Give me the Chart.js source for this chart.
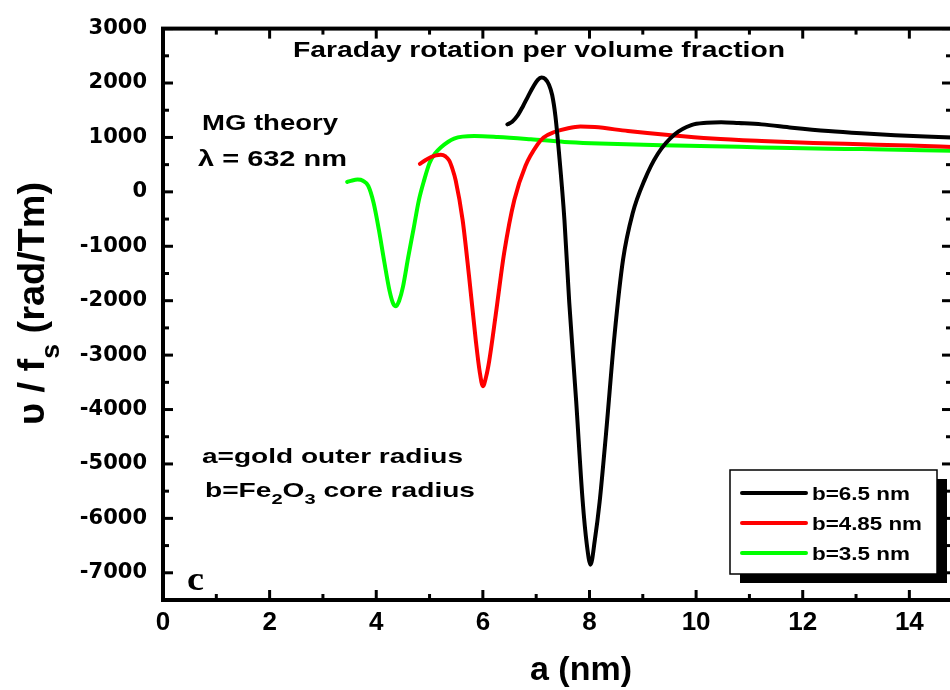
<!DOCTYPE html>
<html>
<head>
<meta charset="utf-8">
<script src="https://cdn.jsdelivr.net/npm/chart.js@4.4.1/dist/chart.umd.min.js"></script>
<style>
  html, body { margin: 0; padding: 0; background: #fff; overflow: hidden; }
  canvas { display: block; }
</style>
</head>
<body>
<canvas id="chart" width="955" height="690"></canvas>
<script>
// series: a (nm) and v/fs (rad/Tm)
const seriesLabels = ['b=6.5 nm', 'b=4.85 nm', 'b=3.5 nm'];
const seriesColors = ['#000000', '#ff0000', '#00ff00'];

const aBlack = [6.46, 6.55, 6.65, 6.75, 6.85, 6.95, 7.03, 7.1, 7.17, 7.24, 7.3, 7.36, 7.43, 7.53, 7.62, 7.75, 7.87, 7.95, 8.02, 8.1, 8.19, 8.31, 8.47, 8.63, 8.81, 9.03, 9.28, 9.6, 9.91, 10.2, 10.47, 10.8, 11.23, 11.8, 12.48, 13.1, 13.73, 14.3, 14.85];
const vBlack = [1240, 1290, 1400, 1570, 1760, 1940, 2060, 2100, 2075, 1970, 1780, 1400, 695, -515, -2027, -3842, -5657, -6480, -6850, -6400, -5700, -4446, -2632, -1241, -394, 211, 695, 1058, 1227, 1270, 1281, 1265, 1240, 1180, 1118, 1075, 1040, 1015, 995];

const aRed = [4.82, 4.92, 5.02, 5.12, 5.21, 5.30, 5.37, 5.43, 5.49, 5.62, 5.74, 5.87, 5.94, 6.0, 6.06, 6.12, 6.24, 6.40, 6.59, 6.8, 7.03, 7.14, 7.34, 7.6, 7.83, 8.1, 8.72, 9.53, 10.3, 11.23, 12.2, 13.1, 14.0, 14.85];
const vRed = [514, 580, 635, 670, 682, 650, 574, 420, 211, -515, -1543, -2753, -3300, -3570, -3400, -3100, -2269, -1120, -150, 480, 877, 1000, 1100, 1170, 1200, 1190, 1118, 1040, 980, 935, 900, 875, 850, 825];

const aGreen = [3.455, 3.55, 3.65, 3.75, 3.85, 3.95, 4.05, 4.15, 4.25, 4.32, 4.37, 4.43, 4.5, 4.6, 4.7, 4.8, 4.9, 5.0, 5.1, 5.21, 5.46, 5.84, 6.28, 6.9, 7.53, 8.03, 9.35, 10.3, 11.23, 12.48, 13.1, 14.85];
const vGreen = [181, 210, 225, 205, 110, -200, -700, -1280, -1820, -2060, -2100, -2000, -1750, -1200, -680, -152, 220, 530, 700, 817, 980, 1027, 1009, 967, 918, 895, 858, 840, 817, 790, 786, 755];

const xTicks = [0, 2, 4, 6, 8, 10, 12, 14];
const yTicks = [-7000, -6000, -5000, -4000, -3000, -2000, -1000, 0, 1000, 2000, 3000];

function toPoints(xs, ys) {
    return xs.map((x, i) => ({ x: x, y: ys[i] }));
}

// bold text squeezed/stretched to a given width; parts = [text, size, dy]
function drawFitted(ctx, parts, x, y, width, family) {
    let total = 0;
    parts.forEach(p => {
        ctx.font = 'bold ' + p[1] + 'px ' + family;
        total += ctx.measureText(p[0]).width;
    });
    ctx.save();
    ctx.translate(x, y);
    ctx.scale(width / total, 1);
    let cx = 0;
    parts.forEach(p => {
        ctx.font = 'bold ' + p[1] + 'px ' + family;
        ctx.fillText(p[0], cx, p[2]);
        cx += ctx.measureText(p[0]).width;
    });
    ctx.restore();
}

const SANS = '"Liberation Sans", Arial, sans-serif';

const framePlugin = {
    id: 'frame',
    afterDatasetsDraw(chart) {
        const { ctx, chartArea, scales } = chart;
        const { left, right, top, bottom } = chartArea;
        ctx.save();
        ctx.strokeStyle = '#000';
        ctx.lineCap = 'butt';
        ctx.lineWidth = 3;
        const seg = (x1, y1, x2, y2) => {
            ctx.beginPath(); ctx.moveTo(x1, y1); ctx.lineTo(x2, y2); ctx.stroke();
        };
        // major ticks on the labels, minor half way, all pointing inward
        const xStep = xTicks[1] - xTicks[0];
        for (let v = xTicks[0]; v <= scales.x.max; v += xStep / 2) {
            const px = scales.x.getPixelForValue(v);
            const len = xTicks.includes(v) ? 10 : 6;
            seg(px, bottom, px, bottom - len);
            seg(px, top, px, top + len);
        }
        const yStep = yTicks[1] - yTicks[0];
        for (let v = scales.y.min; v <= scales.y.max; v += yStep / 2) {
            const py = scales.y.getPixelForValue(v);
            const len = yTicks.includes(v) ? 10 : 6;
            seg(left, py, left + len, py);
            seg(right, py, right - len, py);
        }
        ctx.lineWidth = 4;
        ctx.strokeRect(left, top, right - left, bottom - top);
        ctx.restore();
    }
};

const textPlugin = {
    id: 'texts',
    afterDraw(chart) {
        const ctx = chart.ctx;
        ctx.save();
        ctx.fillStyle = '#000';
        ctx.textBaseline = 'alphabetic';
        ctx.textAlign = 'left';

        drawFitted(ctx, [['Faraday rotation per volume fraction', 22, 0]], 293, 57, 492, SANS);
        drawFitted(ctx, [['MG theory', 22, 0]], 202, 130, 136, SANS);
        drawFitted(ctx, [['\u03bb = 632 nm', 22, 0]], 198, 166, 149, SANS);
        drawFitted(ctx, [['a=gold outer radius', 21, 0]], 202, 463, 261, SANS);
        drawFitted(ctx, [['b=Fe', 21, 0], ['2', 15, 7], ['O', 21, 0], ['3', 15, 7], [' core radius', 21, 0]], 205, 497, 270, SANS);
        drawFitted(ctx, [['c', 34, 0]], 187, 590, 17, '"Liberation Serif", "Times New Roman", serif');

        // x axis title
        drawFitted(ctx, [['a (nm)', 33, 0]], 530, 680, 102, SANS);

        // y axis title, rotated
        ctx.save();
        ctx.translate(44, 425);
        ctx.rotate(-Math.PI / 2);
        drawFitted(ctx, [['\u03c5 / f', 37, 0], ['s', 26, 15], [' (rad/Tm)', 37, 0]], 0, 0, 243, SANS);
        ctx.restore();

        // boxed legend with drop shadow
        const bx = 730, by = 470, bw = 207, bh = 104;
        ctx.fillStyle = '#000';
        ctx.fillRect(bx + 10, by + 9, bw, bh);
        ctx.fillStyle = '#fff';
        ctx.fillRect(bx, by, bw, bh);
        ctx.strokeStyle = '#000';
        ctx.lineWidth = 1.5;
        ctx.strokeRect(bx, by, bw, bh);
        chart.data.datasets.forEach((ds, i) => {
            const ly = 493 + i * 30;
            ctx.strokeStyle = ds.borderColor;
            ctx.lineWidth = 4;
            ctx.lineCap = 'round';
            ctx.beginPath(); ctx.moveTo(742, ly); ctx.lineTo(806, ly); ctx.stroke();
            ctx.fillStyle = '#000';
            ctx.textBaseline = 'alphabetic';
            drawFitted(ctx, [[ds.label, 19, 0]], 812, ly + 7, i === 1 ? 110 : 98, SANS);
        });
        ctx.restore();
    }
};

new Chart(document.getElementById('chart'), {
    type: 'line',
    data: {
        datasets: [
            { label: seriesLabels[0], data: toPoints(aBlack, vBlack), borderColor: seriesColors[0] },
            { label: seriesLabels[1], data: toPoints(aRed, vRed), borderColor: seriesColors[1] },
            { label: seriesLabels[2], data: toPoints(aGreen, vGreen), borderColor: seriesColors[2] }
        ]
    },
    options: {
        responsive: false,
        animation: false,
        layout: { padding: { top: 23, right: 3, left: 0, bottom: 0 } },
        plugins: { legend: { display: false }, tooltip: { enabled: false } },
        elements: {
            point: { radius: 0 },
            line: { borderWidth: 4, cubicInterpolationMode: 'monotone', borderCapStyle: 'round', borderJoinStyle: 'round', fill: false }
        },
        scales: {
            x: {
                type: 'linear',
                min: 0,
                max: 14.8,
                grid: { display: false, drawTicks: false },
                border: { display: false },
                ticks: {
                    color: '#000',
                    padding: 7,
                    maxRotation: 0,
                    callback: v => String(v),
                    font: { family: '"Liberation Sans", Arial', weight: 'bold', size: 26 }
                },
                afterBuildTicks: s => { s.ticks = xTicks.map(v => ({ value: v })); },
                afterFit: s => { s.height = 90; }
            },
            y: {
                type: 'linear',
                min: -7500,
                max: 3000,
                grid: { display: false, drawTicks: false },
                border: { display: false },
                ticks: {
                    color: '#000',
                    padding: 16,
                    callback: v => String(v),
                    font: { family: '"DejaVu Sans"', weight: 'bold', size: 21 }
                },
                afterBuildTicks: s => { s.ticks = yTicks.map(v => ({ value: v })); },
                afterFit: s => { s.width = 163; }
            }
        }
    },
    plugins: [framePlugin, textPlugin]
});
</script>
</body>
</html>
